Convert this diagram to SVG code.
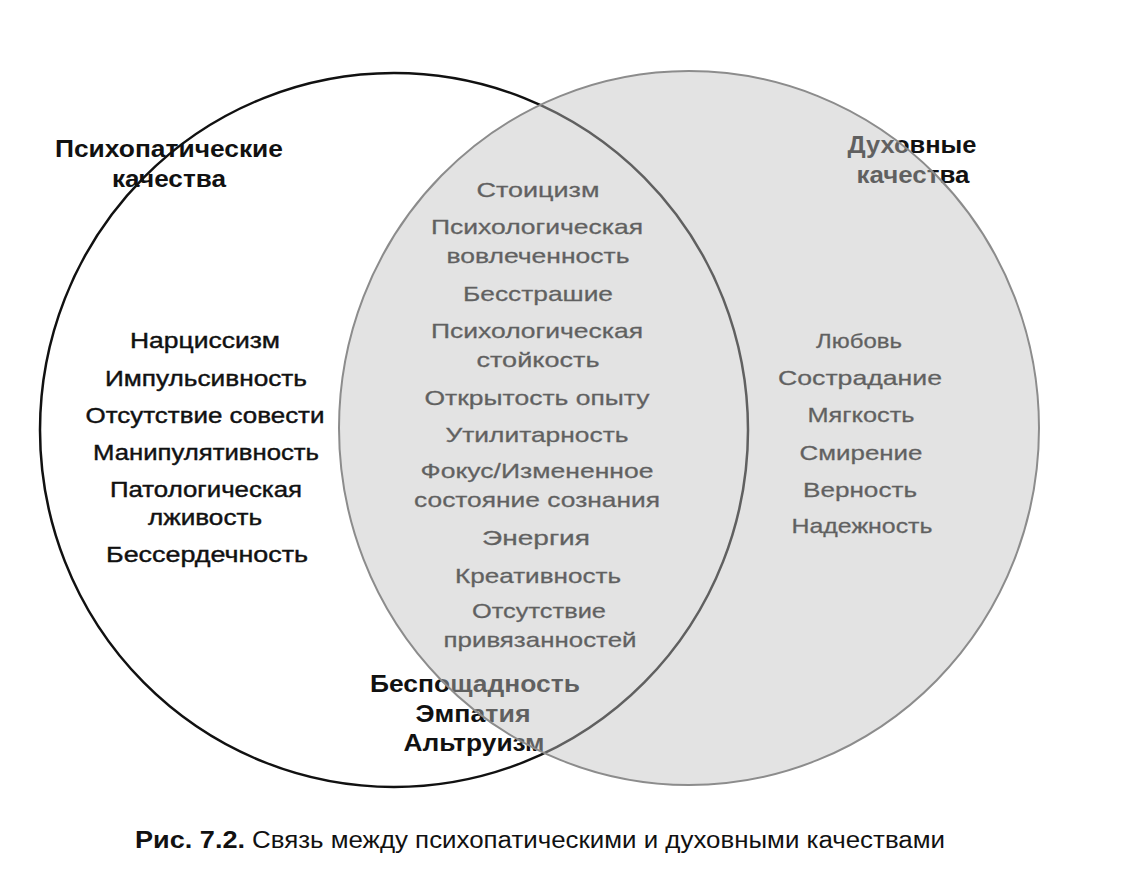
<svg xmlns="http://www.w3.org/2000/svg" width="1125" height="887" viewBox="0 0 1125 887">
<style>
text{font-family:"Liberation Sans",Arial,sans-serif;text-anchor:middle;fill:#111}
.l{font-size:22px;stroke:#111;stroke-width:0.4}
.m{font-size:21px;stroke:#111;stroke-width:0.3}
.t{font-size:23px;font-weight:bold}
.cap{font-size:23px;text-anchor:start}
.capb{font-size:23px;font-weight:bold;text-anchor:start}
</style>
<rect width="1125" height="887" fill="#ffffff"/>
<g id="left-set">
  <ellipse cx="394" cy="430" rx="354" ry="357" fill="none" stroke="#111" stroke-width="2.5"/>
</g>
<g id="left-title">
  <text class="t" x="169" y="157" textLength="228" lengthAdjust="spacingAndGlyphs">Психопатические</text>
  <text class="t" x="169" y="187" textLength="114" lengthAdjust="spacingAndGlyphs">качества</text>
</g>
<g id="left-items">
  <text class="l" x="205" y="348" textLength="150" lengthAdjust="spacingAndGlyphs">Нарциссизм</text>
  <text class="l" x="206" y="386" textLength="202" lengthAdjust="spacingAndGlyphs">Импульсивность</text>
  <text class="l" x="205" y="423" textLength="239" lengthAdjust="spacingAndGlyphs">Отсутствие совести</text>
  <text class="l" x="206" y="460" textLength="226" lengthAdjust="spacingAndGlyphs">Манипулятивность</text>
  <text class="l" x="206" y="497" textLength="192" lengthAdjust="spacingAndGlyphs">Патологическая</text>
  <text class="l" x="205" y="525" textLength="114" lengthAdjust="spacingAndGlyphs">лживость</text>
  <text class="l" x="207" y="562" textLength="202" lengthAdjust="spacingAndGlyphs">Бессердечность</text>
</g>
<g id="shared-items">
  <text class="m" x="538" y="197" textLength="123" lengthAdjust="spacingAndGlyphs">Стоицизм</text>
  <text class="m" x="537" y="234" textLength="212" lengthAdjust="spacingAndGlyphs">Психологическая</text>
  <text class="m" x="538" y="263" textLength="183" lengthAdjust="spacingAndGlyphs">вовлеченность</text>
  <text class="m" x="538" y="301" textLength="150" lengthAdjust="spacingAndGlyphs">Бесстрашие</text>
  <text class="m" x="537" y="338" textLength="212" lengthAdjust="spacingAndGlyphs">Психологическая</text>
  <text class="m" x="538" y="367" textLength="123" lengthAdjust="spacingAndGlyphs">стойкость</text>
  <text class="m" x="537" y="405" textLength="225" lengthAdjust="spacingAndGlyphs">Открытость опыту</text>
  <text class="m" x="537" y="442" textLength="183" lengthAdjust="spacingAndGlyphs">Утилитарность</text>
  <text class="m" x="537" y="478" textLength="233" lengthAdjust="spacingAndGlyphs">Фокус/Измененное</text>
  <text class="m" x="537" y="507" textLength="246" lengthAdjust="spacingAndGlyphs">состояние сознания</text>
  <text class="m" x="536" y="545" textLength="108" lengthAdjust="spacingAndGlyphs">Энергия</text>
  <text class="m" x="538" y="583" textLength="166" lengthAdjust="spacingAndGlyphs">Креативность</text>
  <text class="m" x="539" y="618" textLength="134" lengthAdjust="spacingAndGlyphs">Отсутствие</text>
  <text class="m" x="540" y="647" textLength="193" lengthAdjust="spacingAndGlyphs">привязанностей</text>
</g>
<g id="boundary-items">
  <text class="t" x="475" y="692" textLength="210" lengthAdjust="spacingAndGlyphs">Беспощадность</text>
  <text class="t" x="473" y="722" textLength="115" lengthAdjust="spacingAndGlyphs">Эмпатия</text>
  <text class="t" x="474" y="751" textLength="141" lengthAdjust="spacingAndGlyphs">Альтруизм</text>
</g>
<g id="right-items">
  <text class="m" x="859" y="348" textLength="86" lengthAdjust="spacingAndGlyphs">Любовь</text>
  <text class="m" x="860" y="385" textLength="164" lengthAdjust="spacingAndGlyphs">Сострадание</text>
  <text class="m" x="861" y="422" textLength="107" lengthAdjust="spacingAndGlyphs">Мягкость</text>
  <text class="m" x="861" y="460" textLength="123" lengthAdjust="spacingAndGlyphs">Смирение</text>
  <text class="m" x="860" y="497" textLength="114" lengthAdjust="spacingAndGlyphs">Верность</text>
  <text class="m" x="862" y="533" textLength="141" lengthAdjust="spacingAndGlyphs">Надежность</text>
</g>
<g id="right-title">
  <text class="t" x="912" y="153" textLength="129" lengthAdjust="spacingAndGlyphs">Духовные</text>
  <text class="t" x="913" y="183" textLength="113" lengthAdjust="spacingAndGlyphs">качества</text>
</g>
<g id="right-set">
  <ellipse cx="689" cy="428" rx="350" ry="357" fill="#c2c2c2" fill-opacity="0.45" stroke="#8c8c8c" stroke-width="2"/>
</g>
<g id="caption">
  <text class="capb" x="135" y="848" textLength="110" lengthAdjust="spacingAndGlyphs">Рис. 7.2.</text>
  <text class="cap" x="252" y="848" textLength="693" lengthAdjust="spacingAndGlyphs">Связь между психопатическими и духовными качествами</text>
</g>
<g id="connectors"/>
</svg>
